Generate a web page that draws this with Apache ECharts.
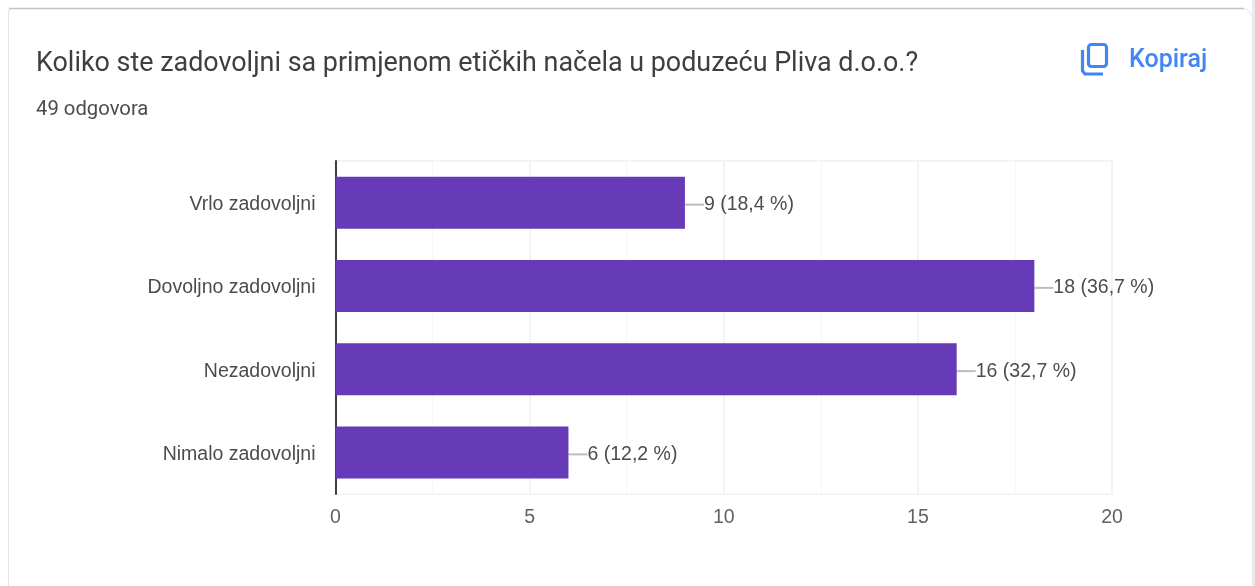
<!DOCTYPE html>
<html>
<head>
<meta charset="utf-8">
<style>html,body{margin:0;padding:0;background:#fff;overflow:hidden}#c{width:1255px;height:586px}</style>
<script src="https://cdn.jsdelivr.net/npm/echarts@6/dist/echarts.min.js"></script>
</head>
<body>
<div id="c"></div>
<script>
const categories = ['Vrlo zadovoljni','Dovoljno zadovoljni','Nezadovoljni','Nimalo zadovoljni'];
const counts = [9,18,16,6];
const shares = ['18,4','36,7','32,7','12,2'];
const titleText = 'Koliko ste zadovoljni sa primjenom etičkih načela u poduzeću Pliva d.o.o.?';
const subtitleText = '49 odgovora';
const copyText = 'Kopiraj';

const chart = echarts.init(document.getElementById('c'), null, {renderer:'canvas'});
const blue = '#4285f4';
const chartFont = 'Liberation Sans';
chart.setOption({
  animation:false,
  backgroundColor:'#ffffff',
  textStyle:{fontFamily:'Roboto'},
  title:[
    {text:titleText,left:36,top:51,padding:0,textStyle:{fontFamily:'Roboto',fontSize:26.9,fontWeight:400,color:'#3c4043'}},
    {text:subtitleText,left:36,top:100,padding:0,textStyle:{fontFamily:'Roboto',fontSize:20.3,fontWeight:400,color:'#4a4d50'}},
    {text:copyText,left:1129,top:48,padding:0,textStyle:{fontFamily:'Roboto',fontSize:25,fontWeight:500,color:blue}}
  ],
  grid:{show:true,borderColor:'#f4f4f6',borderWidth:2,left:335.5,right:143,top:161,bottom:92,containLabel:false},
  xAxis:{
    type:'value',min:0,max:20,interval:5,
    axisLine:{show:false},axisTick:{show:false},
    axisLabel:{fontFamily:chartFont,fontSize:19.5,color:'#5f6368',margin:14},
    splitLine:{show:true,lineStyle:{color:'#f3f3f5',width:2}},
    minorTick:{show:false,splitNumber:2},
    minorSplitLine:{show:true,lineStyle:{color:'#f6f6f8',width:1}}
  },
  yAxis:{
    type:'category',inverse:true,data:categories,
    axisLine:{show:true,lineStyle:{color:'#3c4043',width:2}},
    axisTick:{show:false},
    axisLabel:{fontFamily:chartFont,fontSize:19.5,color:'#4a4d50',margin:20,verticalAlign:'top',padding:[-8,0,0,0]},
    splitLine:{show:false}
  },
  series:[{
    type:'bar',
    data:counts,
    barWidth:52,
    z:3,
    itemStyle:{color:'#673ab7'},
    label:{
      show:true,position:'right',distance:0,
      fontFamily:chartFont,fontSize:19.5,color:'#4a4d50',
      formatter:p=>p.value+' ('+shares[p.dataIndex]+' %)'
    },
    labelLayout:{dx:19,dy:2},
    labelLine:{show:true,lineStyle:{color:'#bdbdbd',width:2}}
  }],
  graphic:[
    {type:'rect',silent:true,z:-10,shape:{x:1252,y:0,width:3,height:586},style:{fill:'#ebe7f5'}},
    {type:'rect',silent:true,z:-9,shape:{x:8.5,y:8.5,width:1244,height:590,r:[3,10,0,0]},style:{fill:'#fff',stroke:'#e4e4e8',lineWidth:1}},
    {type:'line',silent:true,z:-8,shape:{x1:9,y1:8.5,x2:1244,y2:8.5},style:{stroke:'#c4c4c8',lineWidth:1.5}},
    {type:'rect',silent:true,z:5,shape:{x:1088.5,y:44.5,width:18,height:22,r:3},style:{fill:'none',stroke:blue,lineWidth:3.2}},
    {type:'polyline',silent:true,z:5,shape:{points:[[1082.5,50],[1082.5,71],[1085,74],[1103,74]]},style:{fill:'none',stroke:blue,lineWidth:3.2}}
  ]
});
</script>
</body>
</html>
